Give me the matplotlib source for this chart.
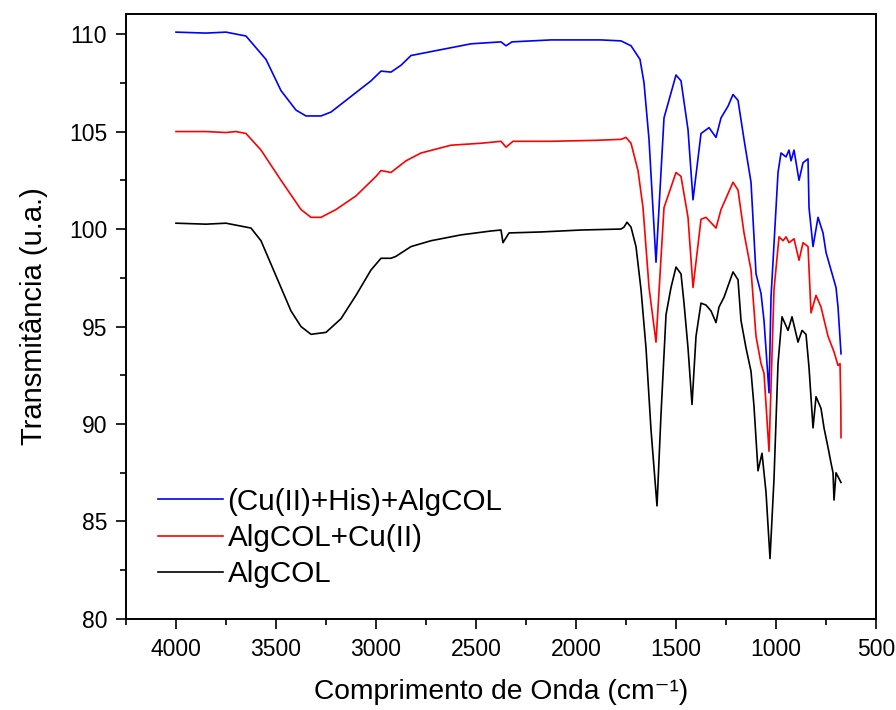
import matplotlib
matplotlib.use("Agg")
import matplotlib.pyplot as plt
from matplotlib.ticker import MultipleLocator

plt.rcParams['font.family'] = ['Liberation Sans', 'DejaVu Sans']

# wavenumber (cm-1) / transmittance
wn_blue = [4000, 3850, 3750, 3700, 3650, 3550, 3475, 3400, 3350, 3275, 3225, 3125, 3025,
           2975, 2925, 2875, 2825, 2675, 2525, 2375, 2350, 2320, 2125, 1875, 1775, 1725,
           1680, 1660, 1635, 1600, 1560, 1500, 1475, 1440, 1415, 1375, 1335, 1300, 1275,
           1240, 1215, 1190, 1160, 1125, 1100, 1075, 1060, 1035, 1025, 990, 975, 950,
           935, 925, 910, 885, 865, 840, 835, 815, 790, 765, 750, 725, 700, 690, 675]
t_blue = [110.1, 110.05, 110.1, 110.0, 109.9, 108.7, 107.1, 106.1, 105.8, 105.8, 106.0, 106.8, 107.6,
          108.1, 108.05, 108.4, 108.9, 109.2, 109.5, 109.6, 109.4, 109.6, 109.7, 109.7, 109.65, 109.4,
          108.7, 107.5, 104.6, 98.3, 105.7, 107.9, 107.6, 105.1, 101.5, 104.9, 105.2, 104.7, 105.7,
          106.3, 106.9, 106.6, 104.6, 102.4, 97.7, 96.7, 95.3, 91.6, 96.5, 102.9, 103.9, 103.7,
          104.05, 103.5, 104.05, 102.5, 103.4, 103.6, 101.1, 99.1, 100.6, 99.8, 98.8, 97.9, 97.0, 96.0, 93.6]

wn_red = [4000, 3850, 3750, 3700, 3650, 3575, 3475, 3375, 3325, 3275, 3200, 3100, 3000,
          2975, 2925, 2850, 2775, 2625, 2475, 2375, 2350, 2315, 2125, 1900, 1775, 1750,
          1725, 1690, 1665, 1640, 1635, 1600, 1560, 1500, 1475, 1440, 1415, 1375, 1350,
          1300, 1275, 1215, 1190, 1160, 1125, 1100, 1075, 1060, 1035, 1010, 985, 965,
          950, 935, 910, 885, 865, 840, 825, 800, 775, 740, 710, 690, 680, 676, 675]
t_red = [105.0, 105.0, 104.95, 105.0, 104.9, 104.05, 102.5, 101.0, 100.6, 100.6, 101.0, 101.7, 102.7,
         103.0, 102.9, 103.5, 103.9, 104.3, 104.4, 104.5, 104.2, 104.5, 104.5, 104.55, 104.6, 104.7,
         104.4, 103.0, 101.1, 97.7, 97.0, 94.2, 101.1, 102.9, 102.7, 100.6, 97.0, 100.5, 100.6,
         100.05, 101.0, 102.4, 102.0, 99.8, 97.9, 94.5, 93.1, 92.6, 88.6, 96.9, 99.6, 99.4,
         99.6, 99.3, 99.5, 98.4, 99.3, 99.1, 95.7, 96.6, 96.0, 94.5, 93.7, 93.0, 93.1, 91.0, 89.3]

wn_black = [4000, 3850, 3750, 3700, 3625, 3575, 3500, 3425, 3375, 3325, 3250, 3175, 3100,
            3025, 2975, 2925, 2900, 2825, 2725, 2575, 2425, 2375, 2365, 2335, 2175, 1975,
            1775, 1760, 1745, 1725, 1700, 1675, 1650, 1625, 1595, 1575, 1550, 1525, 1500,
            1475, 1460, 1440, 1420, 1400, 1375, 1350, 1325, 1300, 1285, 1260, 1215, 1190,
            1175, 1150, 1125, 1110, 1090, 1070, 1050, 1030, 1010, 990, 970, 940, 920,
            890, 870, 850, 835, 815, 800, 775, 760, 740, 725, 715, 710, 700, 675]
t_black = [100.3, 100.25, 100.3, 100.2, 100.05, 99.4, 97.6, 95.8, 95.0, 94.6, 94.7, 95.4, 96.6,
           97.9, 98.5, 98.5, 98.6, 99.1, 99.4, 99.7, 99.9, 99.95, 99.3, 99.8, 99.85, 99.95,
           100.0, 100.1, 100.35, 100.1, 99.1, 96.9, 93.9, 89.7, 85.8, 90.5, 95.6, 97.0, 98.05,
           97.7, 96.2, 93.9, 91.0, 94.5, 96.2, 96.1, 95.8, 95.2, 96.0, 96.5, 97.8, 97.4,
           95.3, 93.9, 92.7, 90.9, 87.6, 88.5, 86.5, 83.1, 87.2, 93.1, 95.5, 94.8, 95.5,
           94.2, 94.8, 94.6, 92.9, 89.8, 91.4, 90.8, 89.8, 88.8, 88.0, 87.5, 86.1, 87.5, 87.0]

labels = ["(Cu(II)+His)+AlgCOL", "AlgCOL+Cu(II)", "AlgCOL"]

fig = plt.figure(figsize=(8.96, 7.10), dpi=100)
ax = fig.add_axes([0.1406, 0.1282, 0.8371, 0.8521])

ax.plot(wn_blue, t_blue, color='#0000ff', lw=1.2, label=labels[0])
ax.plot(wn_red, t_red, color='#ff0000', lw=1.2, label=labels[1])
ax.plot(wn_black, t_black, color='black', lw=1.2, label=labels[2])

ax.set_xlim(4250, 500)
ax.set_ylim(80, 111.03)
ax.xaxis.set_major_locator(MultipleLocator(500))
ax.xaxis.set_minor_locator(MultipleLocator(250))
ax.yaxis.set_major_locator(MultipleLocator(5))
ax.yaxis.set_minor_locator(MultipleLocator(2.5))
ax.tick_params(which='major', direction='out', length=7.5, width=1.2, labelsize=16.5, pad=6)
ax.tick_params(which='minor', direction='out', length=4, width=1.2)
for s in ax.spines.values():
    s.set_linewidth(1.4)

ax.set_xlabel("Comprimento de Onda (cm⁻¹)", fontsize=20.3, labelpad=13)
ax.set_ylabel("Transmitância (u.a.)", fontsize=21, labelpad=15)

ax.legend(loc='lower left', bbox_to_anchor=(0.027, 0.031), frameon=False, fontsize=21.3,
          handlelength=2.2, handletextpad=0.15, labelspacing=0.28, borderaxespad=0)

fig.savefig("out.png", dpi=100)
